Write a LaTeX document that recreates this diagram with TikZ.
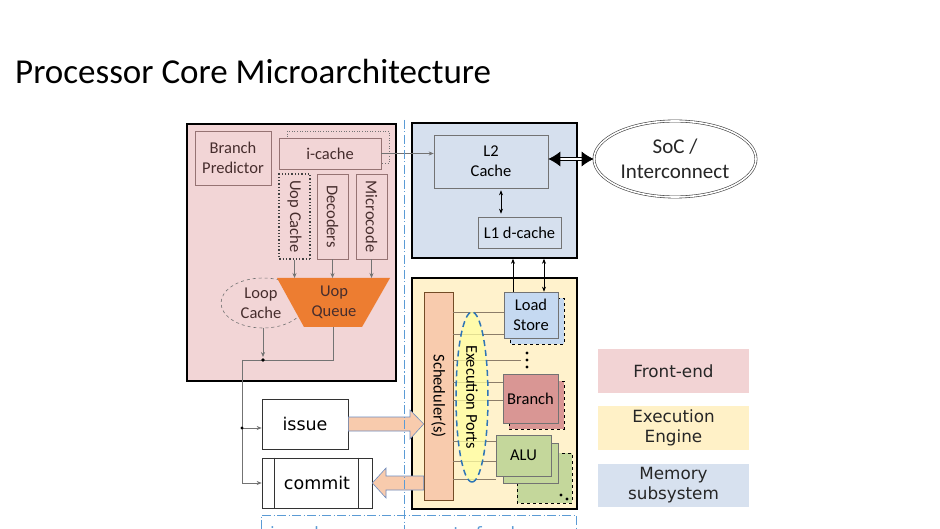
\documentclass[tikz,border=0pt]{standalone}
\usepackage{fontspec}
\setmainfont{Carlito}
\newfontfamily\dv{DejaVu Sans}
\usetikzlibrary{arrows.meta,shapes.geometric,calc}
\definecolor{fepink}{RGB}{242,213,214}
\definecolor{febrd}{RGB}{150,115,115}
\definecolor{fetext}{RGB}{70,45,45}
\definecolor{memblue}{RGB}{214,224,238}
\definecolor{exyel}{RGB}{255,242,204}
\definecolor{uqorange}{RGB}{237,125,49}
\definecolor{peach}{RGB}{248,203,173}
\definecolor{lsblue}{RGB}{197,217,241}
\definecolor{brred}{RGB}{217,150,148}
\definecolor{alugreen}{RGB}{196,215,155}
\definecolor{portyel}{RGB}{255,255,160}
\definecolor{portblue}{RGB}{46,117,182}
\definecolor{dashblue}{RGB}{91,155,213}
\definecolor{linegray}{RGB}{115,115,115}
\definecolor{exline}{RGB}{140,125,105}
\definecolor{legpink}{RGB}{242,211,212}
\definecolor{legyel}{RGB}{255,241,199}
\definecolor{legblue}{RGB}{215,225,239}
\definecolor{arrbrd}{RGB}{110,140,190}
\tikzset{
  bigbox/.style={draw=black, line width=1.6pt, inner sep=0pt},
  txt/.style={font=\fontsize{16.5}{20}\selectfont, align=center},
  febox/.style={draw=febrd, fill=fepink, line width=0.7pt, inner sep=0pt, text=fetext, txt},
  membox/.style={draw=linegray, fill=memblue, line width=0.6pt, inner sep=0pt, txt},
  unitbox/.style={draw=linegray, line width=0.6pt, inner sep=0pt, txt},
  shadowbox/.style={draw=black, line width=0.8pt, dashed},
  conn/.style={draw=linegray, line width=0.6pt},
  blk/.style={draw=black, line width=0.6pt},
  exl/.style={draw=exline, line width=0.6pt},
  tip/.style={-{Stealth[length=5pt,width=4pt]}},
  legend/.style={inner sep=0pt, minimum width=151pt, font=\dv\fontsize{16.8}{20}\selectfont, align=center, text=black!85},
  dvtext/.style={font=\dv\fontsize{17.5}{20}\selectfont},
  dashdot/.style={draw=dashblue, line width=0.9pt, dash pattern=on 9pt off 2.5pt on 1pt off 2.5pt},
  fatarrow/.style={draw=arrbrd, fill=peach, line width=0.6pt, line join=miter}
}
\begin{document}
\begin{tikzpicture}[x=1pt,y=-1pt]
\clip (0,0) rectangle (940,529);
\fill[white] (0,0) rectangle (940,529);

% title
\node[anchor=base west, inner sep=0pt, font=\fontsize{35}{40}\selectfont] (title) at (15,84) {Processor Core Microarchitecture};

% ---------- Front-end ----------
\node[bigbox, fill=fepink, minimum width=209pt, minimum height=257pt] (fe) at (291.5,252.5) {};
\node[febox, minimum width=76pt, minimum height=54pt] (bp) at (233,158) {Branch\\Predictor};
\draw[draw=linegray, line width=0.6pt, dotted] (287,131) rectangle (389,163);
\node[febox, minimum width=102pt, minimum height=31pt] (ic) at (330,153.5) {i-cache};
\node[febox, draw=black!75, line width=1.3pt, dotted, rotate=-90, minimum width=85pt, minimum height=31pt] (uc) at (294.5,216.5) {Uop Cache};
\node[febox, rotate=-90, minimum width=85pt, minimum height=31pt] (dec) at (332.5,216.5) {Decoders};
\node[febox, rotate=-90, minimum width=85pt, minimum height=31pt] (mc) at (371.5,216.5) {Microcode};

% loop cache and uop queue
\draw[draw=linegray, line width=0.6pt, dashed] (263,303) ellipse [x radius=42, y radius=25];
\node[inner sep=0pt, text=fetext, txt] (lc) at (261,303) {Loop\\Cache};
\coordinate (lcb) at (263,328);
\fill[uqorange] (277,278) -- (390,278) -- (362,327) -- (304,327) -- cycle;
\node[inner sep=0pt, text=fetext, txt] (uq) at (334,302.5) {Uop\\Queue};
\coordinate (uqt) at (333,278);
\coordinate (uqb) at (333,327);
\foreach \n in {uc,dec,mc}{
  \draw[conn, tip] (\n.east) -- (\n.east |- uqt);
}
\coordinate (jn) at (263,360);
\coordinate (jl) at (242,360);
\coordinate (jd) at (242,428);
\draw[conn, tip] (lcb) -- ($(jn)+(0,-3)$);
\draw[conn] (uqb) |- (jl);
\fill[black] (jn) circle (1.8);

% issue / commit
\node[draw=black!80, line width=0.7pt, inner sep=0pt, minimum width=86pt, minimum height=50pt, dvtext] (issue) at (305,424) {issue};
\node[draw=black!80, line width=0.7pt, inner sep=0pt, minimum width=110pt, minimum height=50pt, dvtext] (commit) at (317,483) {commit};
\draw[draw=black!80, line width=0.7pt] ($(commit.north west)+(13,0)$) -- ($(commit.south west)+(13,0)$);
\draw[draw=black!80, line width=0.7pt] ($(commit.north east)+(-14,0)$) -- ($(commit.south east)+(-14,0)$);
\draw[conn] (jl) -- (jl |- commit.west);
\draw[conn, tip] (jl |- commit.west) -- (commit.west);
\draw[conn, tip] (jd -| jl) -- (jd -| issue.west);
\fill[black] (jd) circle (1.6);

% ---------- Memory subsystem ----------
\node[bigbox, fill=memblue, minimum width=165pt, minimum height=135pt] (mem) at (494.5,190.5) {};
\node[membox, minimum width=114pt, minimum height=53pt] (l2) at (491,161.5) {L2\\Cache};
\node[membox, minimum width=83pt, minimum height=31pt] (l1) at (519.5,232.5) {L1 d-cache};
\coordinate (xa) at (501,0);
\draw[blk, {Stealth[length=5pt,width=4pt]}-{Stealth[length=5pt,width=4pt]}] ($(l2.south -| xa)+(0,2)$) -- ($(l1.north -| xa)+(0,-3)$);
\draw[conn, tip] (ic.east) -- (ic.east -| l2.west);

% SoC
\node[ellipse, draw=black!75, double, double distance=1.6pt, line width=0.6pt, minimum width=162pt, minimum height=76pt, inner sep=0pt, font=\fontsize{21}{25}\selectfont, align=center, text=black!85] (soc) at (675,159) {SoC /\\Interconnect};
\draw[draw=black, double, double distance=2pt, line width=0.8pt, {Latex[length=12pt,width=15pt]}-{Latex[length=12pt,width=15pt]}] (l2.east |- soc.west) -- (soc.west);

% ---------- Execution engine ----------
\node[bigbox, fill=exyel, minimum width=165pt, minimum height=231pt] (ex) at (494.5,393.5) {};
\node[unitbox, draw=brown!60!black, fill=peach, rotate=-90, minimum width=208pt, minimum height=29pt] (sch) at (438.5,396) {Scheduler(s)};

% units (shadows first)
\draw[shadowbox, fill=lsblue] (510,298) rectangle (564,344);
\node[unitbox, fill=lsblue, minimum width=54pt, minimum height=46pt] (ls) at (531,315) {Load\\Store};
\draw[shadowbox, fill=brred] (509,381) rectangle (564,429);
\node[unitbox, fill=brred, minimum width=55pt, minimum height=49pt] (br) at (530.5,398.5) {Branch};
\draw[shadowbox, fill=alugreen] (517,453) rectangle (572,503);
\draw[draw=linegray, line width=0.6pt, fill=alugreen] (503,443) rectangle (558,483);
\node[unitbox, fill=alugreen, minimum width=55pt, minimum height=41pt] (alu) at (523.5,455.5) {ALU};
\fill[black] (561,495) circle (1.7) (567,499) circle (1.7);

% scheduler to units lines
\foreach \y in {312,334}{ \draw[exl] (sch.north |- 0,\y) -- (ls.west |- 0,\y); }
\coordinate (dt) at (527,360);
\draw[exl] (sch.north |- dt) -- ($(dt)+(-6,0)$);
\fill[black] (527,353) circle (1.6) (527,360) circle (1.6) (527,367) circle (1.6);
\foreach \y in {382,400}{ \draw[exl] (sch.north |- 0,\y) -- (br.west |- 0,\y); }
\foreach \y in {441,461,479}{ \draw[exl] (sch.north |- 0,\y) -- (alu.west |- 0,\y); }

% execution ports
\node[ellipse, draw=portblue, line width=1.5pt, dash pattern=on 6pt off 4pt, fill=portyel, fill opacity=0.75, text opacity=1, rotate=-90, minimum width=170pt, minimum height=32pt, inner sep=0pt, txt] (ports) at (472,397) {Execution Ports};

% load/store to memory
\draw[blk, tip] (ls.north -| 513,0) -- (mem.south -| 513,0);
\draw[blk, {Stealth[length=5pt,width=4pt]}-{Stealth[length=5pt,width=4pt]}] (ls.north -| 544,0) -- (mem.south -| 544,0);

% fat arrows
\draw[fatarrow] (issue.east |- 0,417) -- (410,417) -- (410,410) -- (sch.south |- 0,424) -- (410,439) -- (410,431) -- (issue.east |- 0,431) -- cycle;
\draw[fatarrow] (sch.south |- 0,476) -- (386,476) -- (386,468) -- (commit.east) -- (386,498) -- (386,490) -- (sch.south |- 0,490) -- cycle;

% in-order / out-of-order separators
\draw[dashdot] (404,120) -- (404,529);
\draw[dashdot] (261,529) -- (261,515) -- (576,515) -- (576,529);
\node[anchor=base west, inner sep=0pt, text=dashblue, font=\dv\fontsize{17}{20}\selectfont] (ino) at (270,539) {in order};
\node[anchor=base west, inner sep=0pt, text=dashblue, font=\dv\fontsize{17}{20}\selectfont] (ooo) at (432,539) {out of order};

% legend
\node[legend, fill=legpink, minimum height=44pt] (lg1) at (673.5,371) {Front-end};
\node[legend, fill=legyel, minimum height=44pt] (lg2) at (673.5,428) {Execution\\Engine};
\node[legend, fill=legblue, minimum height=43pt] (lg3) at (673.5,485.5) {Memory\\subsystem};
\end{tikzpicture}
\end{document}
